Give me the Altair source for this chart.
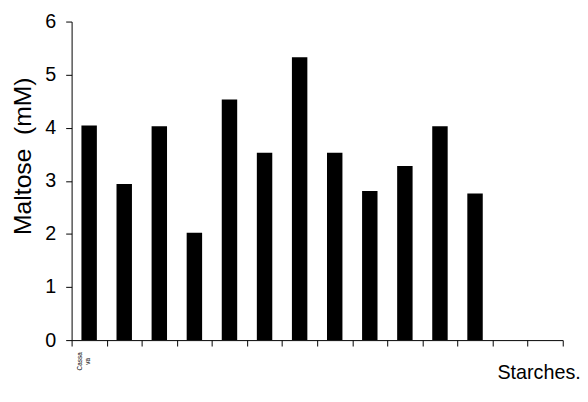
import altair as alt
import pandas as pd

categories = ["Cassava", "S2", "S3", "S4", "S5", "S6", "S7", "S8", "S9", "S10", "S11", "S12", "S13", "S14"]
maltose = [4.04, 2.94, 4.03, 2.02, 4.53, 3.53, 5.33, 3.53, 2.81, 3.28, 4.03, 2.76, None, None]

df = pd.DataFrame({"starch": categories, "maltose": maltose})

chart = alt.Chart(df).mark_bar(color="black", width=alt.RelativeBandSize(0.44)).encode(
    x=alt.X(
        "starch:N",
        sort=categories,
        scale=alt.Scale(paddingInner=0, paddingOuter=0),
        axis=alt.Axis(
            title="Starches.",
            titleX=473.5, titleY=33, titleAnchor="middle", titleAlign="center", titleBaseline="middle",
            titleFont="Liberation Sans", titleFontSize=20, titleFontWeight="normal", titleColor="black",
            tickBand="extent", tickSize=6, tickColor="black", domainColor="black",
            labelAngle=270, labelFontSize=6.5, labelFont="Liberation Sans", labelColor="black",
            labelAlign="center", labelBaseline="top", labelOffset=-13, labelPadding=15,
            labelExpr="datum.value == 'Cassava' ? ['Cassa', 'va'] : ''",
        ),
    ),
    y=alt.Y(
        "maltose:Q",
        scale=alt.Scale(domain=[0, 6]),
        axis=alt.Axis(
            title="Maltose \u00a0(mM)", values=[0, 1, 2, 3, 4, 5, 6], grid=False,
            titleX=-50, titleY=136, titleAngle=-90, titleAlign="center", titleBaseline="middle",
            titleFont="Liberation Sans", titleFontSize=25, titleFontWeight="normal", titleColor="black",
            labelFont="Liberation Sans", labelFontSize=20, labelColor="black", labelPadding=10,
            tickSize=6, tickColor="black", domainColor="black",
        ),
    ),
).properties(
    width=498, height=323,
    padding={"left": 64.5, "top": 11, "right": 17.5, "bottom": 60},
    autosize=alt.AutoSizeParams(type="none"),
).configure_view(stroke=None).configure_axis(grid=False)

chart.save("out.html", embed_options={"renderer": "svg", "actions": False})
